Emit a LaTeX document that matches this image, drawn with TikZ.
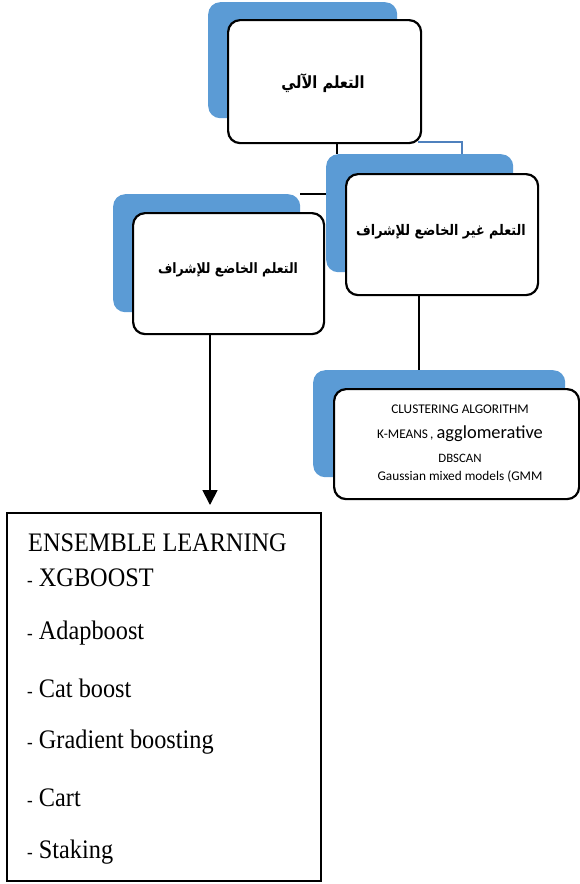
\documentclass[tikz,border=0pt]{standalone}
\usepackage{fontspec}
\usepackage{graphicx}
\setmainfont{Liberation Serif}
\newfontfamily\calfont{Carlito}
\newfontfamily\arabicfont[Script=Arabic]{DejaVu Sans}
\TeXXeTstate=1
\usetikzlibrary{arrows.meta,calc}
\definecolor{boxblue}{HTML}{5B9BD5}
\definecolor{lineblue}{HTML}{4F81BD}
\newcommand{\tallar}[1]{\scalebox{1}[1.15]{#1}}
\newcommand{\tallen}[1]{\scalebox{1}[1.1]{#1}}
\newcommand{\ensdash}{{\fontsize{17}{19}\selectfont -}}
\begin{document}
\begin{tikzpicture}[x=1pt,y=-1pt,
  blueback/.style={fill=boxblue,draw=none,rounded corners=12pt,anchor=north west,inner sep=0pt},
  whitebox/.style={fill=white,draw=black,line width=2.2pt,rounded corners=12pt,anchor=north west,inner sep=0pt},
  artext/.style={font=\arabicfont\bfseries\fontsize{12.7}{15}\selectfont,inner sep=0pt},
  caltext/.style={font=\calfont\fontsize{13.3}{15}\selectfont,inner sep=0pt},
  enstext/.style={font=\fontsize{24.3}{28}\selectfont,anchor=west,inner sep=0pt},
  conn/.style={draw=black,line width=1.2pt}
]
\useasboundingbox (0,0) rectangle (580,884);
\coordinate (c1) at (337,0);
\coordinate (c2) at (462,0);
\coordinate (c3) at (419,0);
\coordinate (c4) at (210,0);

% background blue rectangles
\node[blueback,minimum width=189pt,minimum height=116pt] (tblue) at (208,2) {};
\node[blueback,minimum width=187pt,minimum height=118pt] (rblue) at (326,154) {};
\node[blueback,minimum width=187pt,minimum height=118pt] (lblue) at (113,194) {};
\node[blueback,minimum width=252pt,minimum height=107pt] (brblue) at (313,370) {};

% connectors behind boxes
\draw[draw=lineblue,line width=1.4pt] (418,142) coordinate (b0) -| (rblue.north -| c2);
\draw[conn] (lblue.north east) -- (lblue.north east -| rblue.west);

% white boxes
\node[whitebox,minimum width=193pt,minimum height=123pt] (top) at (227,19) {};
\node[whitebox,minimum width=192pt,minimum height=121pt] (rwhite) at (345,173) {};
\node[whitebox,minimum width=191pt,minimum height=121pt] (lwhite) at (132,212) {};
\node[whitebox,minimum width=245pt,minimum height=110pt] (brwhite) at (333,388) {};
\node[draw=black,line width=2pt,fill=white,anchor=north west,inner sep=0pt,minimum width=314pt,minimum height=368pt] (ens) at (6,512) {};

% connectors
\draw[conn] (top.south -| c1) -- (rblue.north -| c1);
\draw[conn] (rwhite.south -| c3) -- (brblue.north -| c3);
\draw[draw=black,line width=1.8pt,-{Triangle[length=15pt,width=15pt]}] (lwhite.south -| c4) -- ([yshift=7pt]ens.north -| c4);

% Arabic texts
\node[artext,font=\arabicfont\bfseries\fontsize{14.6}{17}\selectfont] (ttop) at (323,83) {\tallar{\beginR التعلم الآلي\endR}};
\node[artext] (tright) at (441,232) {\tallar{\beginR التعلم غير الخاضع للإشراف\endR}};
\node[artext,font=\arabicfont\bfseries\fontsize{12.4}{15}\selectfont] (tleft) at (228,270) {\tallar{\beginR التعلم الخاضع للإشراف\endR}};

% clustering texts
\node[caltext] (k1) at (460,409) {CLUSTERING ALGORITHM};
\node[caltext,anchor=base] (k2) at (460,438) {K-MEANS\,, {\fontsize{18.4}{20}\selectfont agglomerative}};
\node[caltext,font=\calfont\fontsize{12.8}{15}\selectfont] (k3) at (460,458) {DBSCAN};
\node[caltext] (k4) at (460,477) {Gaussian mixed models (GMM};

% ensemble texts
\node[enstext] (e1) at (28,543) {\tallen{ENSEMBLE LEARNING}};
\node[enstext] (e2) at (27,578) {\tallen{\ensdash\ XGBOOST}};
\node[enstext] (e3) at (27,633) {\tallen{\ensdash\ Adapboost}};
\node[enstext] (e4) at (27,688) {\tallen{\ensdash\ Cat boost}};
\node[enstext] (e5) at (27,742) {\tallen{\ensdash\ Gradient boosting}};
\node[enstext] (e6) at (27,798) {\tallen{\ensdash\ Cart}};
\node[enstext] (e7) at (27,852) {\tallen{\ensdash\ Staking}};
\end{tikzpicture}
\end{document}
